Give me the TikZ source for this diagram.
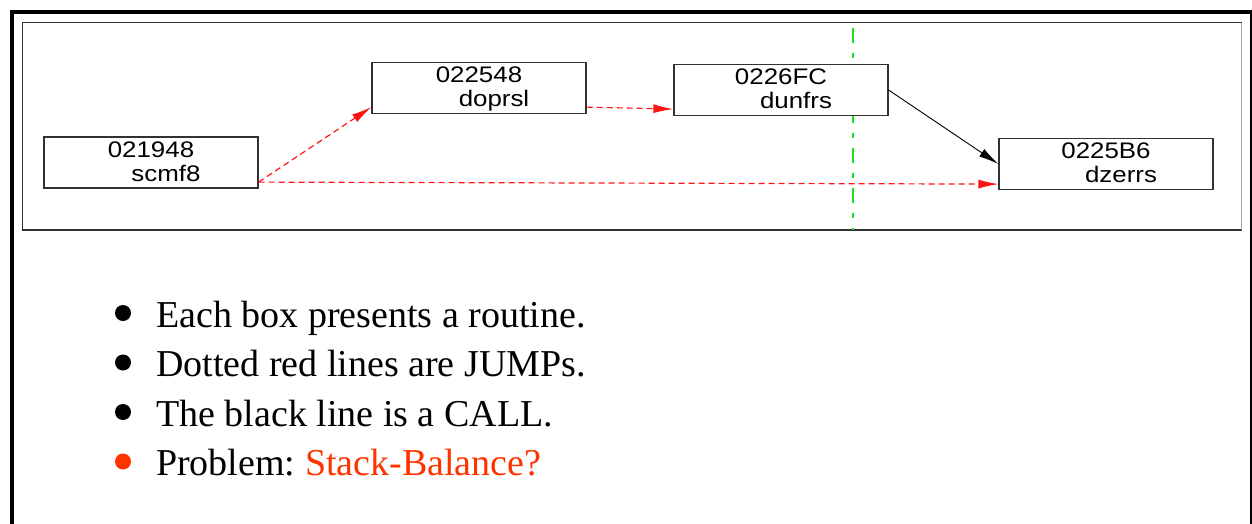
\documentclass[tikz,border=0pt]{standalone}
\usepackage{fontspec}
\setmainfont{Liberation Serif}
\newfontfamily\boxfont{Liberation Sans}
\usetikzlibrary{arrows.meta,calc}
\frenchspacing

\definecolor{jumpred}{RGB}{255,20,20}
\definecolor{markgreen}{RGB}{30,225,30}
\definecolor{alertred}{RGB}{255,51,0}
\definecolor{framegray}{RGB}{50,50,50}

\tikzset{
  routine/.style={draw=framegray, line width=1.2pt, minimum width=214pt,
    minimum height=51pt, inner sep=0pt, fill=white},
  rlabel/.style={anchor=base, inner sep=0pt,
    font=\boxfont\fontsize{22.5}{24}\selectfont, text=black},
  jump/.style={draw=jumpred, line width=1.2pt, dash pattern=on 6pt off 4pt,
    -{Latex[length=20pt,width=9pt,fill=jumpred]}},
  call/.style={draw=black, line width=0.9pt,
    -{Latex[length=20pt,width=9pt]}},
  marker/.style={draw=markgreen, line width=2pt,
    dash pattern=on 15pt off 10pt on 5pt off 10pt},
  item/.style={anchor=base west, inner sep=0pt,
    font=\fontsize{38}{40}\selectfont},
}

% a routine box: name, left x, top y, address, routine name
\newcommand\routinebox[5]{%
  \node[routine] (#1) at (#2+107, #3+25.5) {};
  \node[rlabel] (#1-addr) at ($(#1.north)+(0,21)$)
    {\scalebox{1.15}[1]{#4}};
  \node[rlabel] (#1-name) at ($(#1.north)+(15,45)$)
    {\scalebox{1.15}[1]{#5}};
}

\begin{document}
\begin{tikzpicture}[x=1pt, y=-1pt]
  \useasboundingbox (0,0) rectangle (1252,523);
  \clip (0,0) rectangle (1252,523);

  % slide frame
  \draw[line width=4pt] (12,540) -- (12,12) -- (1252,12) -- (1252,540);

  % call-graph panel
  \draw[framegray, line width=1.2pt] (1241.5,22.5) -- (22.5,22.5) -- (22.5,230) -- (1241.5,230);
  \draw[black!35, line width=1.2pt] (1241.5,22.5) -- (1241.5,230);

  % stack marker
  \coordinate (mtop) at (852.5,28);
  \coordinate (mbot) at (852.5,230);
  \draw[marker] (mtop) -- (mbot);

  % routines
  \routinebox{scmf8}{44}{137}{021948}{scmf8}
  \routinebox{doprsl}{372}{62.5}{022548}{doprsl}
  \routinebox{dunfrs}{674}{64.5}{0226FC}{dunfrs}
  \routinebox{dzerrs}{999}{138.5}{0225B6}{dzerrs}

  % jumps
  \draw[jump] ($(scmf8.south east)+(0,-6.5)$) -- ($(doprsl.south west)+(0,-7)$);
  \draw[jump] ($(scmf8.south east)+(0,-6.5)$) -- ($(dzerrs.south west)+(0,-6)$);
  \draw[jump] ($(doprsl.south east)+(0,-7)$) -- ($(dunfrs.south west)+(0,-7)$);

  % call
  \draw[call] (dunfrs.east) -- (dzerrs.west);

  % notes
  \foreach \y/\c in {327/black, 376.5/black, 426/black, 475.5/alertred}
    \fill[\c] (123,\y-14) circle (8pt);
  \node[item] (n1) at (156,327) {Each box presents a routine.};
  \node[item] (n2) at (156,376.5) {Dotted red lines are JUMPs.};
  \node[item] (n3) at (156,426) {The black line is a CALL.};
  \node[item] (n4) at (156,475.5) {Problem: \textcolor{alertred}{Stack-Balance?}};
\end{tikzpicture}
\end{document}
